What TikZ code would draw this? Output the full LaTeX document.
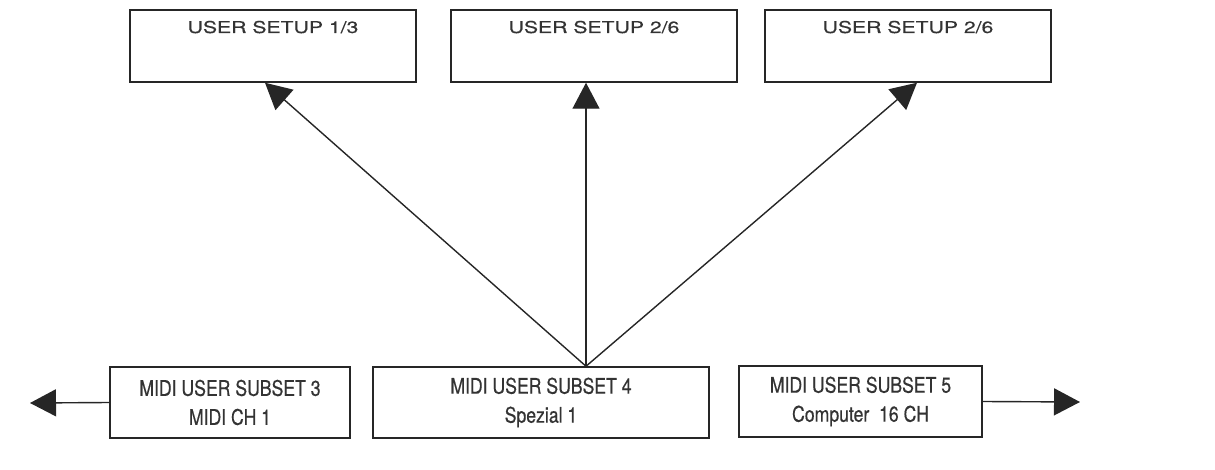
\documentclass[tikz,border=0pt]{standalone}
\usepackage{fontspec}
\setmainfont{TeX Gyre Heros}
\newfontfamily\setupfont[FakeStretch=1.3, FakeBold=0.5]{TeX Gyre Heros}
\newfontfamily\subsetfont[FakeStretch=0.82, FakeBold=0.5]{TeX Gyre Heros}
\usetikzlibrary{positioning, calc}
\usetikzlibrary{arrows.meta}
\tikzset{>={Triangle[length=26pt, width=27pt]}}
\colorlet{myline}{black!85}
\colorlet{mytext}{black!80}
\tikzset{
  setupbox/.style={draw=myline, line width=1.5pt, text=mytext, inner xsep=0, inner ysep=0,
    minimum width=286pt, text height=23pt, text depth=49pt,
    font=\setupfont\fontsize{16.3}{18}\selectfont},
  subsetbox/.style={draw=myline, line width=1.5pt, text=mytext, inner xsep=0, inner ysep=0,
    minimum height=71pt, align=center,
    font=\subsetfont\fontsize{21.5}{29}\selectfont},
  link/.style={->, draw=myline, line width=1.4pt}
}

\begin{document}
\begin{tikzpicture}[x=1pt, y=1pt]
  \useasboundingbox (0,0) rectangle (1215,-470);

  \node[setupbox] (us1) at (273,-46) {USER SETUP 1/3};
  \node[setupbox] (us2) at (594,-46) {USER SETUP 2/6};
  \node[setupbox] (us3) at (908,-46) {USER SETUP 2/6};

  \node[subsetbox, minimum width=240pt] (ms3) at (230,-402.5) {MIDI USER SUBSET 3\\MIDI CH 1};
  \node[subsetbox, minimum width=336pt] (ms4) at (541,-402.5) {MIDI USER SUBSET 4\\Spezial 1};
  \node[subsetbox, minimum width=243pt] (ms5) at (860.5,-401.5) {MIDI USER SUBSET 5\\Computer\ \ 16 CH};

  \coordinate (apex) at ($(ms4.north)+(45,0)$);
  \coordinate (outL) at (30,-403);
  \coordinate (outR) at (1080,-402);

  \draw[link] (apex) -- ([xshift=-8pt]us1.south);
  \draw[link] (apex) -- ([xshift=-8pt]us2.south);
  \draw[link] (apex) -- ([xshift=9pt]us3.south);
  \draw[link] (ms3.west) -- (outL);
  \draw[link] (ms5.east) -- (outR);
\end{tikzpicture}
\end{document}
